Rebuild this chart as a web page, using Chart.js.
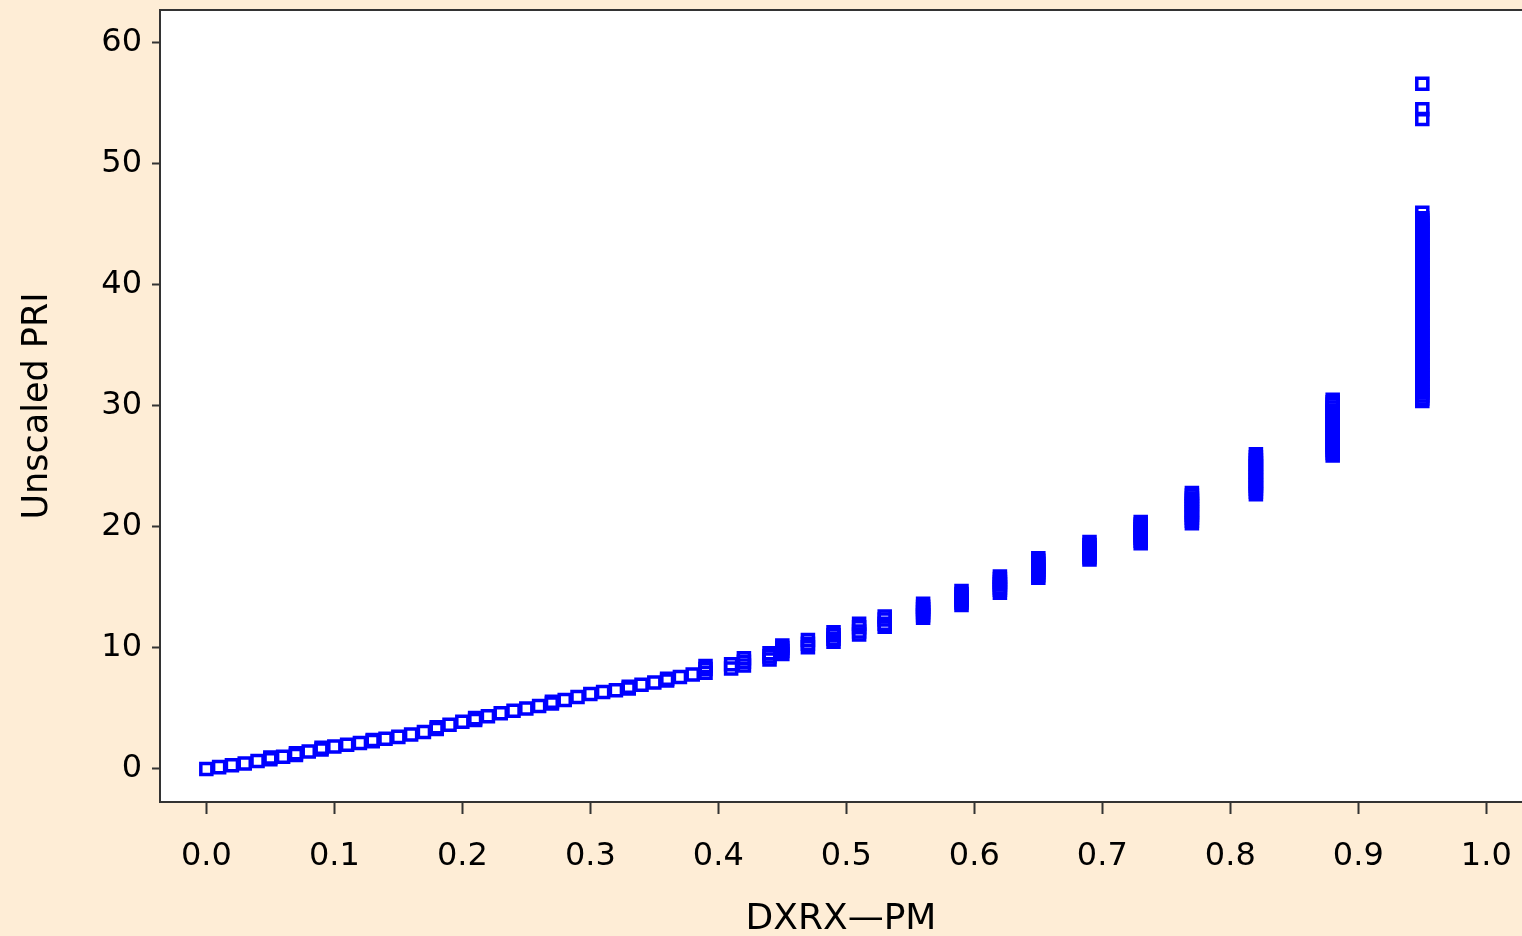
<!DOCTYPE html>
<html>
<head>
<meta charset="utf-8">
<script src="https://cdn.jsdelivr.net/npm/chart.js@4.4.0/dist/chart.umd.min.js"></script>
<style>
  html, body { margin: 0; padding: 0; background: #feedd6; }
  #wrap { width: 1522px; height: 936px; position: relative; }
</style>
</head>
<body>
<div id="wrap"><canvas id="priChart"></canvas></div>
<script>
// DXRX-PM value of each column of observations
const pmValues = [
    0.00, 0.01, 0.02, 0.03, 0.04, 0.05, 0.06, 0.07, 0.08, 0.09,
    0.10, 0.11, 0.12, 0.13, 0.14, 0.15, 0.16, 0.17, 0.18, 0.19,
    0.20, 0.21, 0.22, 0.23, 0.24, 0.25, 0.26, 0.27, 0.28, 0.29,
    0.30, 0.31, 0.32, 0.33, 0.34, 0.35, 0.36, 0.37, 0.38, 0.39,
    0.41, 0.42, 0.44, 0.45, 0.47, 0.49, 0.51, 0.53, 0.56, 0.59,
    0.62, 0.65, 0.69, 0.73, 0.77, 0.82, 0.88, 0.95
];

// Unscaled PRI values observed at each DXRX-PM value (same order)
const priValues = [
    [0.0], [0.15], [0.3], [0.45], [0.65], [0.8, 0.95], [1.0], [1.15, 1.3], [1.45], [1.6, 1.75],
    [1.85], [2.0], [2.15], [2.3, 2.4], [2.5], [2.65], [2.85], [3.05], [3.3, 3.45], [3.65],
    [3.9], [4.05, 4.2], [4.35], [4.6], [4.8], [5.0], [5.2], [5.4, 5.55], [5.7], [5.95],
    [6.2], [6.35], [6.5], [6.65, 6.8], [6.95], [7.15], [7.3, 7.45], [7.6], [7.8], [7.95, 8.25, 8.5],
    [8.3, 8.65],
    [8.55, 8.85, 9.15],
    [9.05, 9.3, 9.55],
    [9.5, 9.75, 10.0, 10.2],
    [10.05, 10.35, 10.65],
    [10.5, 10.75, 11.05, 11.3],
    [11.1, 11.35, 11.7, 12.0],
    [11.75, 12.0, 12.35, 12.6],
    [12.5, 12.7, 12.95, 13.2, 13.4, 13.65],
    [13.55, 13.75, 13.95, 14.2, 14.45, 14.7],
    [14.55, 14.8, 15.0, 15.25, 15.45, 15.7, 15.9],
    [15.8, 16.0, 16.25, 16.45, 16.7, 16.95, 17.2, 17.4],
    [17.3, 17.5, 17.75, 18.0, 18.25, 18.5, 18.75],
    [18.65, 18.85, 19.1, 19.3, 19.55, 19.8, 20.0, 20.2, 20.4],
    [20.3, 20.5, 20.75, 21.0, 21.2, 21.45, 21.7, 21.9, 22.15, 22.35, 22.6, 22.8],
    [22.7, 22.9, 23.15, 23.4, 23.6, 23.85, 24.1, 24.3, 24.55, 24.8, 25.0, 25.25, 25.5, 25.75, 26.0],
    [25.9, 26.1, 26.35, 26.6, 26.8, 27.05, 27.3, 27.5, 27.75, 28.0, 28.2, 28.45, 28.7, 28.9,
     29.15, 29.4, 29.6, 29.85, 30.1, 30.3, 30.5],
    [30.4, 30.6, 30.85, 31.1, 31.3, 31.55, 31.8, 32.0, 32.25, 32.5, 32.7, 32.95, 33.2, 33.4,
     33.65, 33.9, 34.1, 34.35, 34.6, 34.8, 35.05, 35.3, 35.5, 35.75, 36.0, 36.2, 36.45, 36.7,
     36.9, 37.15, 37.4, 37.6, 37.85, 38.1, 38.3, 38.55, 38.8, 39.0, 39.25, 39.5, 39.7, 39.95,
     40.2, 40.4, 40.65, 40.9, 41.1, 41.35, 41.6, 41.8, 42.05, 42.3, 42.5, 42.75, 43.0, 43.2,
     43.45, 43.7, 43.9, 44.15, 44.4, 44.6, 44.85, 45.1, 45.3, 45.5, 45.95, 53.7, 54.5, 56.6]
];

// Axis ticks
const xTicks = [0.0, 0.1, 0.2, 0.3, 0.4, 0.5, 0.6, 0.7, 0.8, 0.9, 1.0];
const yTicks = [0, 10, 20, 30, 40, 50, 60];

const xTitle = 'DXRX\u2014PM';
const yTitle = 'Unscaled PRI';

// flatten columns into scatter points
const points = [];
pmValues.forEach((pm, i) => {
    priValues[i].forEach(pri => points.push({ x: pm, y: pri }));
});

const axisColor = '#333333';
const fontFamily = '"DejaVu Sans", Verdana, sans-serif';

// page background + white plot area + top frame line
const framePlugin = {
    id: 'frame',
    beforeDraw(chart) {
        const { ctx, chartArea: a } = chart;
        ctx.save();
        ctx.fillStyle = '#feedd6';
        ctx.fillRect(0, 0, chart.width, chart.height);
        ctx.fillStyle = '#ffffff';
        ctx.fillRect(a.left, a.top, a.right - a.left, a.bottom - a.top);
        ctx.restore();
    },
    afterDraw(chart) {
        const { ctx, chartArea: a } = chart;
        ctx.save();
        ctx.strokeStyle = axisColor;
        ctx.lineWidth = 2;
        ctx.beginPath();
        ctx.moveTo(a.left - 1, a.top);
        ctx.lineTo(a.right, a.top);
        ctx.stroke();
        ctx.restore();
    }
};

const ctx = document.getElementById('priChart').getContext('2d');
new Chart(ctx, {
    type: 'scatter',
    data: {
        datasets: [{
            label: 'PRI',
            data: points,
            pointStyle: 'rect',
            pointRadius: 7.8,
            pointHoverRadius: 7.8,
            pointBorderWidth: 3.5,
            pointBorderColor: '#0000ff',
            pointBackgroundColor: 'rgba(0,0,0,0)'
        }]
    },
    options: {
        responsive: true,
        maintainAspectRatio: false,
        animation: false,
        layout: {
            autoPadding: false,
            padding: { top: 10, right: 0, bottom: 0, left: 0 }
        },
        plugins: {
            legend: { display: false },
            tooltip: { enabled: false }
        },
        scales: {
            x: {
                type: 'linear',
                min: -0.0362,
                max: 1.0279,
                afterFit: s => {
                    s.height = 134;
                    s.paddingLeft = 0;
                    s.paddingRight = 0;
                },
                afterBuildTicks: s => { s.ticks = xTicks.map(v => ({ value: v })); },
                grid: {
                    drawOnChartArea: false,
                    drawTicks: true,
                    tickLength: 12,
                    tickWidth: 2,
                    tickColor: axisColor
                },
                border: { display: true, color: axisColor, width: 2 },
                ticks: {
                    color: '#000',
                    padding: 23,
                    maxRotation: 0,
                    font: { family: fontFamily, size: 32 },
                    callback: v => v.toFixed(1)
                },
                title: {
                    display: true,
                    text: xTitle,
                    color: '#000',
                    padding: { top: 0, bottom: 0 },
                    font: { family: fontFamily, size: 36, lineHeight: 0.9 }
                }
            },
            y: {
                type: 'linear',
                min: -2.73,
                max: 62.7,
                afterFit: s => {
                    s.width = 160;
                    s.paddingTop = 0;
                    s.paddingBottom = 0;
                },
                afterBuildTicks: s => { s.ticks = yTicks.map(v => ({ value: v })); },
                grid: {
                    drawOnChartArea: false,
                    drawTicks: true,
                    tickLength: 8,
                    tickWidth: 2,
                    tickColor: axisColor
                },
                border: { display: true, color: axisColor, width: 2 },
                ticks: {
                    color: '#000',
                    padding: 10,
                    font: { family: fontFamily, size: 32 },
                    callback: v => String(v)
                },
                title: {
                    display: true,
                    text: yTitle,
                    color: '#000',
                    padding: { top: 17, bottom: 0 },
                    font: { family: fontFamily, size: 35 }
                }
            }
        }
    },
    plugins: [framePlugin]
});
</script>
</body>
</html>
